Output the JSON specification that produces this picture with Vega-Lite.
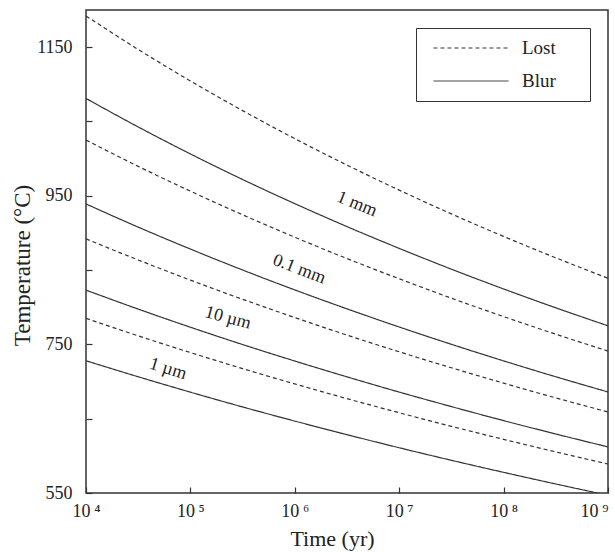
{
  "$schema": "https://vega.github.io/schema/vega-lite/v6.json",
  "autosize": {"type": "none"},
  "padding": {"left": 86, "top": 10, "right": 7, "bottom": 59},
  "width": 522,
  "height": 483,
  "background": "white",
  "config": {
    "view": {"stroke": "#333", "strokeWidth": 1.5},
    "font": "Liberation Serif",
    "axis": {
      "domain": false,
      "grid": false,
      "tickColor": "#333",
      "tickWidth": 1.2,
      "labelFont": "Liberation Serif",
      "labelFontSize": 18,
      "labelColor": "#222",
      "titleFont": "Liberation Serif",
      "titleFontSize": 22,
      "titleFontWeight": "normal",
      "titleColor": "#222"
    }
  },
  "datasets": {
    "curves": [
      {"t": 10000, "T": 1192, "type": "Lost", "size": "1 mm"},
      {"t": 31623, "T": 1146.9, "type": "Lost", "size": "1 mm"},
      {"t": 100000, "T": 1104.5, "type": "Lost", "size": "1 mm"},
      {"t": 316228, "T": 1064.6, "type": "Lost", "size": "1 mm"},
      {"t": 1000000, "T": 1026.9, "type": "Lost", "size": "1 mm"},
      {"t": 3162278, "T": 991.3, "type": "Lost", "size": "1 mm"},
      {"t": 10000000, "T": 957.6, "type": "Lost", "size": "1 mm"},
      {"t": 31622777, "T": 925.6, "type": "Lost", "size": "1 mm"},
      {"t": 100000000, "T": 895.3, "type": "Lost", "size": "1 mm"},
      {"t": 316227766, "T": 866.5, "type": "Lost", "size": "1 mm"},
      {"t": 1000000000, "T": 839, "type": "Lost", "size": "1 mm"},

      {"t": 10000, "T": 1081, "type": "Blur", "size": "1 mm"},
      {"t": 31623, "T": 1042.6, "type": "Blur", "size": "1 mm"},
      {"t": 100000, "T": 1006.3, "type": "Blur", "size": "1 mm"},
      {"t": 316228, "T": 971.9, "type": "Blur", "size": "1 mm"},
      {"t": 1000000, "T": 939.4, "type": "Blur", "size": "1 mm"},
      {"t": 3162278, "T": 908.5, "type": "Blur", "size": "1 mm"},
      {"t": 10000000, "T": 879.2, "type": "Blur", "size": "1 mm"},
      {"t": 31622777, "T": 851.2, "type": "Blur", "size": "1 mm"},
      {"t": 100000000, "T": 824.6, "type": "Blur", "size": "1 mm"},
      {"t": 316227766, "T": 799.2, "type": "Blur", "size": "1 mm"},
      {"t": 1000000000, "T": 775, "type": "Blur", "size": "1 mm"},

      {"t": 10000, "T": 1025, "type": "Lost", "size": "0.1 mm"},
      {"t": 31623, "T": 989.6, "type": "Lost", "size": "0.1 mm"},
      {"t": 100000, "T": 956.2, "type": "Lost", "size": "0.1 mm"},
      {"t": 316228, "T": 924.4, "type": "Lost", "size": "0.1 mm"},
      {"t": 1000000, "T": 894.2, "type": "Lost", "size": "0.1 mm"},
      {"t": 3162278, "T": 865.5, "type": "Lost", "size": "0.1 mm"},
      {"t": 10000000, "T": 838.3, "type": "Lost", "size": "0.1 mm"},
      {"t": 31622777, "T": 812.2, "type": "Lost", "size": "0.1 mm"},
      {"t": 100000000, "T": 787.4, "type": "Lost", "size": "0.1 mm"},
      {"t": 316227766, "T": 763.7, "type": "Lost", "size": "0.1 mm"},
      {"t": 1000000000, "T": 741, "type": "Lost", "size": "0.1 mm"},

      {"t": 10000, "T": 939, "type": "Blur", "size": "0.1 mm"},
      {"t": 31623, "T": 907.8, "type": "Blur", "size": "0.1 mm"},
      {"t": 100000, "T": 878.3, "type": "Blur", "size": "0.1 mm"},
      {"t": 316228, "T": 850.1, "type": "Blur", "size": "0.1 mm"},
      {"t": 1000000, "T": 823.3, "type": "Blur", "size": "0.1 mm"},
      {"t": 3162278, "T": 797.8, "type": "Blur", "size": "0.1 mm"},
      {"t": 10000000, "T": 773.4, "type": "Blur", "size": "0.1 mm"},
      {"t": 31622777, "T": 750.1, "type": "Blur", "size": "0.1 mm"},
      {"t": 100000000, "T": 727.8, "type": "Blur", "size": "0.1 mm"},
      {"t": 316227766, "T": 706.4, "type": "Blur", "size": "0.1 mm"},
      {"t": 1000000000, "T": 686, "type": "Blur", "size": "0.1 mm"},

      {"t": 10000, "T": 892, "type": "Lost", "size": "10 µm"},
      {"t": 31623, "T": 863.6, "type": "Lost", "size": "10 µm"},
      {"t": 100000, "T": 836.5, "type": "Lost", "size": "10 µm"},
      {"t": 316228, "T": 810.7, "type": "Lost", "size": "10 µm"},
      {"t": 1000000, "T": 786.1, "type": "Lost", "size": "10 µm"},
      {"t": 3162278, "T": 762.5, "type": "Lost", "size": "10 µm"},
      {"t": 10000000, "T": 740.0, "type": "Lost", "size": "10 µm"},
      {"t": 31622777, "T": 718.5, "type": "Lost", "size": "10 µm"},
      {"t": 100000000, "T": 697.8, "type": "Lost", "size": "10 µm"},
      {"t": 316227766, "T": 678.0, "type": "Lost", "size": "10 µm"},
      {"t": 1000000000, "T": 659, "type": "Lost", "size": "10 µm"},

      {"t": 10000, "T": 823, "type": "Blur", "size": "10 µm"},
      {"t": 31623, "T": 797.5, "type": "Blur", "size": "10 µm"},
      {"t": 100000, "T": 773.1, "type": "Blur", "size": "10 µm"},
      {"t": 316228, "T": 749.8, "type": "Blur", "size": "10 µm"},
      {"t": 1000000, "T": 727.6, "type": "Blur", "size": "10 µm"},
      {"t": 3162278, "T": 706.3, "type": "Blur", "size": "10 µm"},
      {"t": 10000000, "T": 685.8, "type": "Blur", "size": "10 µm"},
      {"t": 31622777, "T": 666.3, "type": "Blur", "size": "10 µm"},
      {"t": 100000000, "T": 647.4, "type": "Blur", "size": "10 µm"},
      {"t": 316227766, "T": 629.4, "type": "Blur", "size": "10 µm"},
      {"t": 1000000000, "T": 612, "type": "Blur", "size": "10 µm"},

      {"t": 10000, "T": 785, "type": "Lost", "size": "1 µm"},
      {"t": 31623, "T": 761.5, "type": "Lost", "size": "1 µm"},
      {"t": 100000, "T": 739.0, "type": "Lost", "size": "1 µm"},
      {"t": 316228, "T": 717.4, "type": "Lost", "size": "1 µm"},
      {"t": 1000000, "T": 696.8, "type": "Lost", "size": "1 µm"},
      {"t": 3162278, "T": 677.0, "type": "Lost", "size": "1 µm"},
      {"t": 10000000, "T": 658.0, "type": "Lost", "size": "1 µm"},
      {"t": 31622777, "T": 639.7, "type": "Lost", "size": "1 µm"},
      {"t": 100000000, "T": 622.2, "type": "Lost", "size": "1 µm"},
      {"t": 316227766, "T": 605.3, "type": "Lost", "size": "1 µm"},
      {"t": 1000000000, "T": 589, "type": "Lost", "size": "1 µm"},

      {"t": 10000, "T": 728, "type": "Blur", "size": "1 µm"},
      {"t": 31623, "T": 706.4, "type": "Blur", "size": "1 µm"},
      {"t": 100000, "T": 685.7, "type": "Blur", "size": "1 µm"},
      {"t": 316228, "T": 665.8, "type": "Blur", "size": "1 µm"},
      {"t": 1000000, "T": 646.8, "type": "Blur", "size": "1 µm"},
      {"t": 3162278, "T": 628.5, "type": "Blur", "size": "1 µm"},
      {"t": 10000000, "T": 610.9, "type": "Blur", "size": "1 µm"},
      {"t": 31622777, "T": 594.0, "type": "Blur", "size": "1 µm"},
      {"t": 100000000, "T": 577.8, "type": "Blur", "size": "1 µm"},
      {"t": 316227766, "T": 562.1, "type": "Blur", "size": "1 µm"},
      {"t": 1000000000, "T": 547, "type": "Blur", "size": "1 µm"}
    ],
    "labels": [
      {"t": 3940000, "T": 938.8, "label": "1 mm"},
      {"t": 1100000, "T": 851, "label": "0.1 mm"},
      {"t": 229000, "T": 785.4, "label": "10 µm"},
      {"t": 61000, "T": 716.8, "label": "1 µm"}
    ]
  },
  "layer": [
    {
      "data": {"name": "curves"},
      "mark": {"type": "line", "interpolate": "monotone", "clip": true, "color": "#333", "strokeWidth": 1.2},
      "encoding": {
        "x": {
          "field": "t", "type": "quantitative",
          "scale": {"type": "log", "domain": [10000, 1000000000], "nice": false},
          "axis": {
            "title": "Time  (yr)",
            "values": [10000, 100000, 1000000, 10000000, 100000000, 1000000000],
            "labelExpr": "'10\u2009' + ['⁰','¹','²','³','⁴','⁵','⁶','⁷','⁸','⁹'][round(log(datum.value)/LN10)]",
            "labelAlign": {"condition": {"test": "datum.value >= 999999999", "value": "right"}, "value": "center"},
            "tickSize": -6,
            "labelPadding": 15,
            "labelFlush": false,
            "titleX": 246,
            "titleY": 52,
            "titleBaseline": "alphabetic"
          }
        },
        "y": {
          "field": "T", "type": "quantitative",
          "scale": {"domain": [550, 1200], "nice": false, "zero": false},
          "axis": {
            "title": "Temperature (°C)",
            "format": "d",
            "values": [550, 650, 750, 850, 950, 1050, 1150],
            "labelExpr": "datum.value % 200 == 150 ? datum.label : ''",
            "tickSize": -6,
            "labelPadding": 20,
            "labelFlush": false,
            "titleFontSize": 23,
            "titleX": -64,
            "titleY": 255,
            "titleBaseline": "middle"
          }
        },
        "detail": {"field": "size"},
        "strokeDash": {
          "field": "type", "type": "nominal",
          "scale": {"domain": ["Lost", "Blur"], "range": [[4, 3], [1, 0]]},
          "legend": {
            "title": null,
            "orient": "none",
            "legendX": 330,
            "legendY": 18,
            "symbolType": "M-3.95,0H3.95",
            "symbolSize": 361,
            "symbolOffset": 35,
            "symbolStrokeWidth": 1,
            "symbolStrokeColor": "#333",
            "labelFont": "Liberation Serif",
            "labelFontSize": 19,
            "labelColor": "#222",
            "labelOffset": 41,
            "labelExpr": "datum.label + '\u2002\u2800'",
            "strokeColor": "#333",
            "fillColor": "white",
            "padding": 10,
            "rowPadding": 13
          }
        }
      }
    },
    {
      "data": {"name": "labels"},
      "transform": [{"filter": "datum.label == '1 mm'"}],
      "mark": {"type": "text", "angle": 22, "fontSize": 18, "font": "Liberation Serif", "color": "#222"},
      "encoding": {"x": {"field": "t", "type": "quantitative"}, "y": {"field": "T", "type": "quantitative"}, "text": {"field": "label"}}
    },
    {
      "data": {"name": "labels"},
      "transform": [{"filter": "datum.label == '0.1 mm'"}],
      "mark": {"type": "text", "angle": 21, "fontSize": 18, "font": "Liberation Serif", "color": "#222"},
      "encoding": {"x": {"field": "t", "type": "quantitative"}, "y": {"field": "T", "type": "quantitative"}, "text": {"field": "label"}}
    },
    {
      "data": {"name": "labels"},
      "transform": [{"filter": "datum.label == '10 µm'"}],
      "mark": {"type": "text", "angle": 15, "fontSize": 18, "font": "Liberation Serif", "color": "#222"},
      "encoding": {"x": {"field": "t", "type": "quantitative"}, "y": {"field": "T", "type": "quantitative"}, "text": {"field": "label"}}
    },
    {
      "data": {"name": "labels"},
      "transform": [{"filter": "datum.label == '1 µm'"}],
      "mark": {"type": "text", "angle": 17, "fontSize": 18, "font": "Liberation Serif", "color": "#222"},
      "encoding": {"x": {"field": "t", "type": "quantitative"}, "y": {"field": "T", "type": "quantitative"}, "text": {"field": "label"}}
    }
  ]
}
